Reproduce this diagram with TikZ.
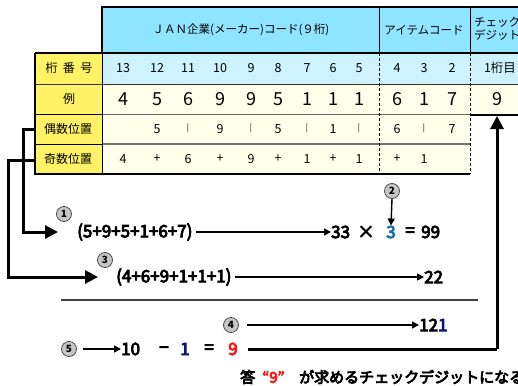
\documentclass[tikz,border=0pt]{standalone}
\usepackage{fontspec}
\setmainfont{Noto Sans CJK JP}
\newfontfamily\jpb[FakeBold=5]{Noto Sans CJK JP}
\usetikzlibrary{arrows.meta}
\definecolor{hdrblue}{RGB}{143,228,255}
\definecolor{rowblue}{RGB}{206,243,255}
\definecolor{cream}{RGB}{255,255,234}
\definecolor{labyel}{RGB}{255,242,102}
\definecolor{digblue}{RGB}{26,110,170}
\definecolor{navy}{RGB}{20,20,120}
\definecolor{ansred}{RGB}{255,20,20}
\tikzset{
  num/.style={inner sep=0pt, font=\fontsize{12.5}{14}\selectfont},
  bar/.style={inner sep=0pt, font=\fontsize{8}{9}\selectfont},
  bignum/.style={inner sep=0pt, font=\fontsize{18}{20}\selectfont},
  lab/.style={inner sep=0pt, font=\fontsize{12}{14}\selectfont},
  hdr/.style={inner sep=0pt, font=\fontsize{11.5}{14}\selectfont},
  frm/.style={inner sep=0pt, font=\jpb\fontsize{17}{20}\selectfont},
  anstxt/.style={inner sep=0pt, anchor=west, font=\jpb\fontsize{15}{17}\selectfont},
  circ/.style={circle, draw=black!70, fill=gray!45, line width=0.8pt, minimum size=15pt, inner sep=0pt, font=\fontsize{10}{10}\selectfont\bfseries},
  farrow/.style={line width=1.4pt, -{Triangle[length=7pt,width=7pt]}},
  carrow/.style={line width=3pt, -{Triangle[length=13pt,width=13pt]}},
  rowline/.style={draw=black!60, line width=0.8pt},
  dashv/.style={draw=black, line width=0.8pt, dash pattern=on 3pt off 2pt}
}
\begin{document}
\begin{tikzpicture}[x=1pt,y=-1pt]
\useasboundingbox (0,0) rectangle (518,385);
% ---------- table backgrounds ----------
\fill[hdrblue] (102,7) rectangle (518,53);
\fill[rowblue] (102,53) rectangle (518,84);
\fill[cream] (102,84) rectangle (518,115);
\fill[cream] (102,115) rectangle (470,174);
\fill[labyel] (35,53) rectangle (102,174);
% ---------- lines ----------
\draw[black, line width=1.3pt] (102,53) -- (102,7) -- (518,7);
\draw[black, line width=1.2pt] (35,53) -- (518,53);
\draw[black!80, line width=0.8pt] (35,84) -- (518,84);
\draw[rowline] (102,114) -- (470,114);
\draw[black, line width=1pt] (35,114) -- (102,114);
\draw[black, line width=1.2pt] (470,115) -- (518,115);
\draw[draw=black!55, line width=1.4pt] (102,144) -- (470,144);
\draw[black, line width=1pt] (35,144) -- (102,144);
\draw[black, line width=1.6pt] (35,53) -- (35,174) -- (470,174);
\draw[black, line width=1pt] (102,53) -- (102,174);
\draw[black, line width=1pt] (379,7) -- (379,53);
\draw[black, line width=1pt] (470,7) -- (470,53);
\draw[dashv] (379,53) -- (379,174);
\draw[dashv] (470,53) -- (470,174);
% ---------- header texts ----------
\node[hdr] (hjan) at (241,30) {ＪＡＮ企業(メーカー)コード(９桁)};
\node[hdr] (hitem) at (424,30) {アイテムコード};
\node[hdr, anchor=west, align=left, font=\fontsize{11.5}{13}\selectfont] (hchk) at (474,29) {チェック\\デジット};
% ---------- left labels ----------
\node[lab] (l1) at (69,68) {桁\hspace{0.45em}番\hspace{0.45em}号};
\node[lab] (l2) at (69,99) {例};
\node[lab] (l3) at (68,129) {偶数位置};
\node[lab] (l4) at (68,159) {奇数位置};
\coordinate (l3edge) at (35,129);
\coordinate (l4edge) at (35,160);
% ---------- digit numbers ----------
\foreach \xx/\t [count=\i] in {123/13,157/12,188/11,220/10,251/9,278/8,307/7,333/6,359/5,397/4,424/3,452/2}
  \node[num] (k\i) at (\xx,68) {\t};
\node[num] (k13) at (500,68) {1桁目};
% ---------- example row ----------
\foreach \xx/\t [count=\i] in {123/4,157/5,188/6,220/9,251/9,278/5,307/1,333/1,359/1,397/6,424/1,452/7,497/9}
  \node[bignum] (e\i) at (\xx,99) {\t};
% ---------- even row ----------
\foreach \xx/\t [count=\i] in {157/5,220/9,278/5,333/1,397/6,452/7}
  \node[num] (g\i) at (\xx,129) {\t};
\foreach \xx [count=\i] in {188,251,307,359,424}
  \node[bar] (gb\i) at (\xx,128.5) {|};
% ---------- odd row ----------
\foreach \xx/\t [count=\i] in {123/4,157/+,188/6,220/+,251/9,278/+,307/1,333/+,359/1,397/+,424/1}
  \node[num] (o\i) at (\xx,159) {\t};
% ---------- formula 1 ----------
\node[circ] (n1) at (64,214) {1};
\node[frm, anchor=west] (f1) at (77,232) {(5+9+5+1+6+7)};
\node[frm, anchor=west] (r33) at (331,232) {33};
\node[frm] (rx) at (366,232) {×};
\node[frm, text=digblue] (r3) at (391,232) {3};
\node[frm] (req) at (410,232) {=};
\node[frm, anchor=west] (r99) at (421,232) {99};
\node[circ] (n2) at (392,191) {2};
\draw[farrow] (n2.south) -- (r3.north);
\draw[farrow] (f1.east) ++(3,0) -- (r33.west);
% ---------- formula 2 ----------
\node[circ] (n3) at (105,260) {3};
\node[frm, anchor=west] (f2) at (116,277) {(4+6+9+1+1+1)};
\node[frm, anchor=west] (r22) at (424,277) {22};
\draw[farrow] (f2.east) ++(3,0) -- (r22.west);
% ---------- connectors ----------
\coordinate (c1a) at (23,129);
\coordinate (t1) at (58,232);
\coordinate (c2a) at (8,160);
\coordinate (t2) at (98,277);
\draw[carrow] (l3edge) -- (c1a) |- (t1);
\draw[carrow] (l4edge) -- (c2a) |- (t2);
% ---------- separator ----------
\coordinate (s1) at (61,300);
\coordinate (s2) at (478,300);
\draw[black!75, line width=1.5pt] (s1) -- (s2);
% ---------- formula 4 ----------
\node[circ] (n4) at (231,325) {4};
\node[frm, anchor=west] (r121) at (419,325) {12\textcolor{navy}{1}};
\draw[farrow] (n4.east) ++(8,0) -- (r121.west);
% ---------- formula 5 ----------
\node[circ] (n5) at (69,349) {5};
\node[frm, anchor=west] (r10) at (121,349) {10};
\node[frm] (rm) at (164,350) {−};
\node[frm, text=navy] (r1) at (185,349) {1};
\node[frm] (req2) at (209,349) {=};
\node[frm, text=ansred] (r9) at (233,349) {9};
\draw[farrow] (n5.east) ++(6,0) -- (r10.west);
\coordinate (corner) at (497,349);
\draw[line width=3pt] (r9.east) ++(10,0) -- (corner);
\draw[carrow] (corner) -- (e13.south |- 0,116);
% ---------- answer ----------
\node[anstxt] (ans1) at (240,377) {答};
\node[anstxt, text=ansred] (ans2) at (262,377) {“9”};
\node[anstxt] (ans3) at (299,377) {が求めるチェックデジットになる};
\end{tikzpicture}
\end{document}
